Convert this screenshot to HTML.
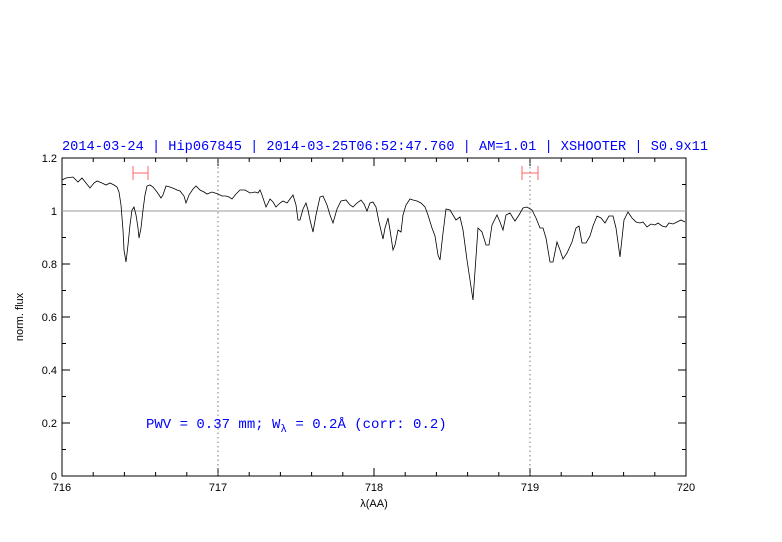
<!DOCTYPE html>
<html><head><meta charset="utf-8"><style>body{margin:0;background:#fff}svg{display:block}</style></head><body>
<svg width="782" height="542" xmlns="http://www.w3.org/2000/svg" font-family="Liberation Sans, sans-serif">
<rect width="782" height="542" fill="#fff"/>
<text x="62" y="150" fill="#0000ff" font-size="14" style="font-family:'Liberation Mono',monospace" textLength="646" lengthAdjust="spacingAndGlyphs">2014-03-24 | Hip067845 | 2014-03-25T06:52:47.760 | AM=1.01 | XSHOOTER | S0.9x11</text>
<g stroke="#000" stroke-width="1" fill="none">
<rect x="62" y="158" width="624" height="318"/>
<path d="M62,476v-8M93.2,476v-4M124.4,476v-4M155.6,476v-4M186.8,476v-4M218,476v-8M249.2,476v-4M280.4,476v-4M311.6,476v-4M342.8,476v-4M374,476v-8M405.2,476v-4M436.4,476v-4M467.6,476v-4M498.8,476v-4M530,476v-8M561.2,476v-4M592.4,476v-4M623.6,476v-4M654.8,476v-4M62,158v8M93.2,158v4M124.4,158v4M155.6,158v4M186.8,158v4M218,158v8M249.2,158v4M280.4,158v4M311.6,158v4M342.8,158v4M374,158v8M405.2,158v4M436.4,158v4M467.6,158v4M498.8,158v4M530,158v8M561.2,158v4M592.4,158v4M623.6,158v4M654.8,158v4"/>
<path d="M62,476h8M62,449.5h4M62,423h8M62,396.5h4M62,370h8M62,343.5h4M62,317h8M62,290.5h4M62,264h8M62,237.5h4M62,211h8M62,184.5h4M62,158h8M686,476h-8M686,449.5h-4M686,423h-8M686,396.5h-4M686,370h-8M686,343.5h-4M686,317h-8M686,290.5h-4M686,264h-8M686,237.5h-4M686,211h-8M686,184.5h-4M686,158h-8"/>
</g>
<line x1="62" y1="211" x2="686" y2="211" stroke="#999" stroke-width="1"/>
<g stroke="#555" stroke-width="0.8" stroke-dasharray="1.5,3"><line x1="218" y1="158" x2="218" y2="476"/><line x1="530" y1="158" x2="530" y2="476"/></g>
<g stroke="#f66" stroke-width="1" fill="none"><path d="M133,173h15M133,166v14M148,166v14M522,173h16M522,166v14M538,166v14"/></g>
<polyline fill="none" stroke="#000" stroke-width="0.8" points="62,180 66,178 73,177 78,182 82,178 86,183 90,188 94,183 97,181 102,183 106,185 110,183 114,185 117,187 119,192 121,205 123,230 124,250 126,262 128,245 130,225 132,210 134,207 136,215 138,228 139,238 141,228 143,210 145,195 147,186 150,185 153,187 157,192 161,198 163,195 166,186 170,187 175,189 177,190 180,191 184,196 186,203 189,195 193,189 196,186 200,190 204,192 207,194 212,192 215,193 218,194 222,196 226,196 229,197 232,199 236,194 240,190 245,190 250,193 255,192 258,193 260,190 262,195 264,201 266,207 270,199 273,202 276,207 280,203 283,201 287,203 290,199 293,195 296,205 298,220 300,220 303,209 306,203 308,210 310,220 313,232 316,215 320,197 323,196 327,205 330,215 333,223 337,209 341,201 346,200 350,205 353,207 357,203 361,200 364,204 367,211 370,203 373,202 376,207 379,222 383,239 385,228 388,218 390,230 393,250 395,245 398,230 401,232 403,215 406,205 410,199 413,200 417,201 421,203 425,207 428,215 432,228 435,236 438,255 440,260 443,233 446,209 450,210 453,215 456,220 460,217 463,230 467,260 470,280 473,300 478,228 482,232 486,245 489,245 492,225 497,215 500,222 503,230 506,215 510,213 513,218 515,221 519,215 523,208 527,207 532,210 536,218 540,228 543,228 546,238 550,262 553,262 557,242 560,250 563,259 567,253 572,242 576,228 579,226 582,243 586,243 590,236 593,226 597,216 601,218 605,223 609,216 613,216 616,228 620,257 624,220 628,212 632,218 636,222 640,223 643,222 647,227 651,224 655,225 658,223 662,226 666,227 669,223 673,224 677,222 681,220 685,222"/>
<g font-size="11" fill="#000" text-anchor="end">
<text x="57" y="480">0</text><text x="57" y="427">0.2</text><text x="57" y="374">0.4</text><text x="57" y="321">0.6</text><text x="57" y="268">0.8</text><text x="57" y="215">1</text><text x="57" y="162">1.2</text>
</g>
<g font-size="11" fill="#000" text-anchor="middle">
<text x="62" y="491">716</text><text x="218" y="491">717</text><text x="374" y="491">718</text><text x="530" y="491">719</text><text x="686" y="491">720</text>
<text x="374" y="507">λ(AA)</text>
<text transform="translate(23,317) rotate(-90)">norm. flux</text>
</g>
<text x="146" y="428" fill="#0000ff" font-size="14" style="font-family:'Liberation Mono',monospace">PWV = 0.37 mm; W<tspan font-size="11" dy="4">λ</tspan><tspan dy="-4"> = 0.2Å (corr: 0.2)</tspan></text>
</svg>
</body></html>
